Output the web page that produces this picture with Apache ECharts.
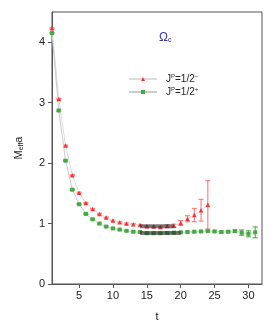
<!DOCTYPE html>
<html><head><meta charset="utf-8">
<script src="https://cdn.jsdelivr.net/npm/echarts@6/dist/echarts.min.js"></script>
<style>html,body{margin:0;padding:0;background:#fff}#c{width:273px;height:327px}</style>
</head><body><div id="c"></div>
<script>
const tRed = [1,2,3,4,5,6,7,8,9,10,11,12,13,14,15,16,17,18,19,20,21,22,23,24];
const mRed = [4.23,3.06,2.29,1.80,1.51,1.34,1.24,1.16,1.10,1.05,1.02,1.00,0.99,0.975,0.955,0.95,0.945,0.96,0.965,1.01,1.08,1.14,1.22,1.31];
const eRed = [0.01,0.01,0.01,0.01,0.01,0.01,0.01,0.01,0.01,0.01,0.01,0.01,0.01,0.01,0.01,0.012,0.015,0.02,0.025,0.04,0.05,0.11,0.18,0.40];
const tGreen = [1,2,3,4,5,6,7,8,9,10,11,12,13,14,15,16,17,18,19,20,21,22,23,24,25,26,27,28,29,30,31];
const mGreen = [4.15,2.87,2.04,1.56,1.32,1.16,1.07,1.00,0.95,0.92,0.90,0.88,0.865,0.86,0.84,0.84,0.84,0.845,0.85,0.855,0.86,0.865,0.87,0.875,0.87,0.86,0.865,0.875,0.85,0.83,0.855];
const eGreen = [0.01,0.01,0.01,0.01,0.01,0.01,0.01,0.01,0.01,0.01,0.01,0.01,0.01,0.01,0.01,0.01,0.01,0.01,0.01,0.01,0.01,0.01,0.01,0.01,0.01,0.015,0.015,0.02,0.045,0.05,0.09];
const fitRedT = [14,19], fitRedM = 0.955;
const fitGreenT = [14,20], fitGreenM = 0.845;
const xTicks = [5,10,15,20,25,30];
const yTicks = [0,1,2,3,4];
const nameRed = 'J{sup|P}=1/2{sup|−}';
const nameGreen = 'J{sup|P}=1/2{sup|+}';

const font = 'Liberation Sans, Arial, sans-serif';
function errData(t,m,e){return t.map((x,i)=>[x,m[i]-e[i],m[i]+e[i]]);}
function errRender(color){
  return function(params, api){
    const lo = api.coord([api.value(0), api.value(1)]);
    const hi = api.coord([api.value(0), api.value(2)]);
    const w = 2.5;
    const st = {stroke: color, lineWidth: 1.2};
    return {type:'group', children:[
      {type:'line', shape:{x1:lo[0],y1:lo[1],x2:hi[0],y2:hi[1]}, style:st},
      {type:'line', shape:{x1:lo[0]-w,y1:lo[1],x2:lo[0]+w,y2:lo[1]}, style:st},
      {type:'line', shape:{x1:hi[0]-w,y1:hi[1],x2:hi[0]+w,y2:hi[1]}, style:st}
    ]};
  };
}
const chart = echarts.init(document.getElementById('c'));
chart.setOption({
  animation:false,
  backgroundColor:'#fff',
  title:{text:'Ω{sub|c}', left:154, top:26, textStyle:{fontFamily:font, fontSize:12, fontWeight:'normal', color:'#3a3ab0', rich:{sub:{fontSize:7, color:'#3a3ab0', verticalAlign:'bottom', padding:[6,0,0,0]}}}},
  legend:{orient:'vertical', left:123, top:68, itemWidth:28, itemHeight:5, itemGap:2,
    data:[nameRed, nameGreen],
    textStyle:{fontFamily:font, fontSize:10, color:'#222', padding:[0,0,0,4], rich:{sup:{fontSize:6, verticalAlign:'top', padding:[0,0,6,0], color:'#222'}}}},
  grid:{left:52, right:11, top:12, bottom:43, show:true, borderColor:'#555', borderWidth:1},
  xAxis:{type:'value', min:1, max:32, name:'t', nameLocation:'middle', nameGap:27,
    nameTextStyle:{fontFamily:font, fontSize:11, color:'#222'},
    axisLine:{show:true, lineStyle:{color:'#555'}}, splitLine:{show:false},
    axisTick:{show:true, length:4, lineStyle:{color:'#555'}, customValues:xTicks},
    axisLabel:{fontFamily:font, fontSize:11, color:'#222', margin:6, customValues:xTicks}},
  yAxis:{type:'value', min:0, max:4.5, name:'M{sub|eff}a', nameLocation:'middle', nameGap:27,
    nameTextStyle:{fontFamily:font, fontSize:11, color:'#222', rich:{sub:{fontSize:7, color:'#222', verticalAlign:'bottom', padding:[5,0,0,0]}}},
    axisLine:{show:true, lineStyle:{color:'#555'}}, splitLine:{show:false},
    axisTick:{show:true, length:4, lineStyle:{color:'#555'}, customValues:yTicks},
    axisLabel:{fontFamily:font, fontSize:11, color:'#222', margin:7, customValues:yTicks}},
  series:[
    {name:nameRed, type:'line', data:tRed.map((t,i)=>[t,mRed[i]]), symbol:'triangle', symbolSize:4.5,
      itemStyle:{color:'#ff3030'}, lineStyle:{color:'#dcdcdc', width:1}, z:3},
    {name:nameGreen, type:'line', data:tGreen.map((t,i)=>[t,mGreen[i]]), symbol:'rect', symbolSize:4,
      itemStyle:{color:'#44a844'}, lineStyle:{color:'#cccccc', width:1}, z:3},
    {type:'custom', data:errData(tRed,mRed,eRed), renderItem:errRender('rgba(255,90,90,0.75)'), z:2, encode:{x:0,y:[1,2]}},
    {type:'custom', data:errData(tGreen,mGreen,eGreen), renderItem:errRender('rgba(60,160,60,0.8)'), z:2, encode:{x:0,y:[1,2]}},
    {type:'line', data:fitRedT.map(t=>[t,fitRedM]), symbol:'none', lineStyle:{color:'rgba(40,40,40,0.6)', width:4}, z:4, silent:true},
    {type:'line', data:fitGreenT.map(t=>[t,fitGreenM]), symbol:'none', lineStyle:{color:'rgba(40,40,40,0.6)', width:4}, z:4, silent:true}
  ]
});
</script></body></html>
